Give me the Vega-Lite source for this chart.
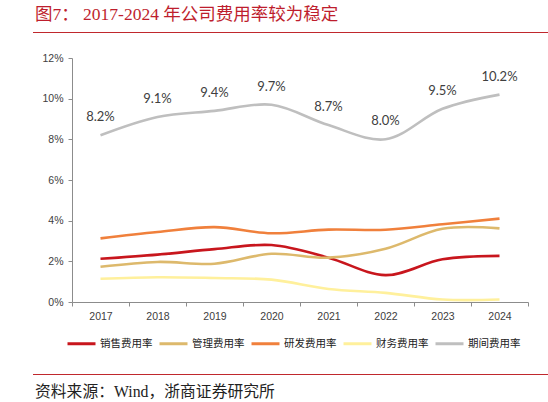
{
  "$schema": "https://vega.github.io/schema/vega-lite/v6.json",
  "autosize": "none",
  "width": 456,
  "height": 244,
  "padding": {"left": 72, "top": 58, "right": 20, "bottom": 100},
  "background": "white",
  "config": {
    "view": {"stroke": null},
    "axis": {
      "domainColor": "#8c8c8c",
      "tickColor": "#8c8c8c",
      "labelColor": "#404040",
      "labelFont": "Liberation Sans",
      "labelFontSize": 10.5,
      "tickSize": 4,
      "grid": false,
      "title": null
    }
  },
  "datasets": {
    "rates": [
      {"year": "2017", "series": "销售费用率", "value": 2.13},
      {"year": "2018", "series": "销售费用率", "value": 2.33},
      {"year": "2019", "series": "销售费用率", "value": 2.6},
      {"year": "2020", "series": "销售费用率", "value": 2.8},
      {"year": "2021", "series": "销售费用率", "value": 2.18},
      {"year": "2022", "series": "销售费用率", "value": 1.32},
      {"year": "2023", "series": "销售费用率", "value": 2.1},
      {"year": "2024", "series": "销售费用率", "value": 2.27},
      {"year": "2017", "series": "管理费用率", "value": 1.73},
      {"year": "2018", "series": "管理费用率", "value": 1.97},
      {"year": "2019", "series": "管理费用率", "value": 1.88},
      {"year": "2020", "series": "管理费用率", "value": 2.37},
      {"year": "2021", "series": "管理费用率", "value": 2.18},
      {"year": "2022", "series": "管理费用率", "value": 2.62},
      {"year": "2023", "series": "管理费用率", "value": 3.6},
      {"year": "2024", "series": "管理费用率", "value": 3.62},
      {"year": "2017", "series": "研发费用率", "value": 3.13},
      {"year": "2018", "series": "研发费用率", "value": 3.44},
      {"year": "2019", "series": "研发费用率", "value": 3.68},
      {"year": "2020", "series": "研发费用率", "value": 3.38},
      {"year": "2021", "series": "研发费用率", "value": 3.56},
      {"year": "2022", "series": "研发费用率", "value": 3.55},
      {"year": "2023", "series": "研发费用率", "value": 3.82},
      {"year": "2024", "series": "研发费用率", "value": 4.1},
      {"year": "2017", "series": "财务费用率", "value": 1.14},
      {"year": "2018", "series": "财务费用率", "value": 1.22},
      {"year": "2019", "series": "财务费用率", "value": 1.18},
      {"year": "2020", "series": "财务费用率", "value": 1.1},
      {"year": "2021", "series": "财务费用率", "value": 0.64},
      {"year": "2022", "series": "财务费用率", "value": 0.45},
      {"year": "2023", "series": "财务费用率", "value": 0.12},
      {"year": "2024", "series": "财务费用率", "value": 0.12},
      {"year": "2017", "series": "期间费用率", "value": 8.2},
      {"year": "2018", "series": "期间费用率", "value": 9.1},
      {"year": "2019", "series": "期间费用率", "value": 9.4},
      {"year": "2020", "series": "期间费用率", "value": 9.7},
      {"year": "2021", "series": "期间费用率", "value": 8.7},
      {"year": "2022", "series": "期间费用率", "value": 8.0},
      {"year": "2023", "series": "期间费用率", "value": 9.5},
      {"year": "2024", "series": "期间费用率", "value": 10.2}
    ]
  },
  "layer": [
    {
      "data": {"name": "rates"},
      "mark": {"type": "line", "interpolate": "catmull-rom", "strokeWidth": 2.6},
      "encoding": {
        "x": {
          "field": "year",
          "type": "nominal",
          "bandPosition": 0.5,
          "scale": {"type": "band", "paddingInner": 0, "paddingOuter": 0},
          "axis": {"labelAngle": 0, "tickBand": "extent", "labelPadding": 5}
        },
        "y": {
          "field": "value",
          "type": "quantitative",
          "scale": {"domain": [0, 12], "nice": false},
          "axis": {"values": [0, 2, 4, 6, 8, 10, 12], "labelExpr": "datum.value + '%'", "labelPadding": 5}
        },
        "color": {
          "field": "series",
          "type": "nominal",
          "scale": {
            "domain": ["销售费用率", "管理费用率", "研发费用率", "财务费用率", "期间费用率"],
            "range": ["#C8161D", "#DDB96C", "#F0803C", "#FFF09C", "#BFBFBF"]
          },
          "legend": {
            "orient": "none",
            "legendX": -6,
            "legendY": 270,
            "direction": "horizontal",
            "columns": 5,
            "columnPadding": 0,
            "title": null,
            "symbolType": "stroke",
            "symbolSize": 784,
            "symbolStrokeWidth": 3,
            "labelFont": "Noto Sans CJK SC",
            "labelFontSize": 10.5,
            "labelColor": "#222222",
            "labelOffset": 3
          }
        },
        "order": {"field": "series"}
      }
    },
    {
      "data": {"name": "rates"},
      "transform": [
        {"filter": "datum.series === '期间费用率'"},
        {"calculate": "format(datum.value, '.1f') + '%'", "as": "label"}
      ],
      "mark": {"type": "text", "dy": -18, "font": "Lato", "fontSize": 13, "color": "#404040"},
      "encoding": {
        "x": {"field": "year", "type": "nominal", "bandPosition": 0.5},
        "y": {"field": "value", "type": "quantitative"},
        "text": {"field": "label"}
      }
    },
    {
      "data": {"values": [{"t": "图7：  2017-2024 年公司费用率较为稳定"}]},
      "mark": {"type": "text", "align": "left", "baseline": "middle", "font": "Liberation Serif, Noto Sans CJK SC", "fontSize": 17.5, "color": "#BE1E2D"},
      "encoding": {"x": {"value": -37}, "y": {"value": -43}, "text": {"field": "t"}}
    },
    {
      "data": {"values": [{"t": "资料来源：Wind，浙商证券研究所"}]},
      "mark": {"type": "text", "align": "left", "baseline": "middle", "font": "Liberation Serif, Noto Sans CJK SC", "fontSize": 15.8, "color": "#222222"},
      "encoding": {"x": {"value": -37}, "y": {"value": 334}, "text": {"field": "t"}}
    },
    {
      "data": {"values": [{"p": -25.5}, {"p": 316.5}]},
      "mark": {"type": "rule", "color": "#C0282D", "strokeWidth": 1},
      "encoding": {"x": {"value": -39}, "x2": {"value": 476}, "y": {"field": "p", "type": "quantitative", "scale": null}}
    }
  ]
}
